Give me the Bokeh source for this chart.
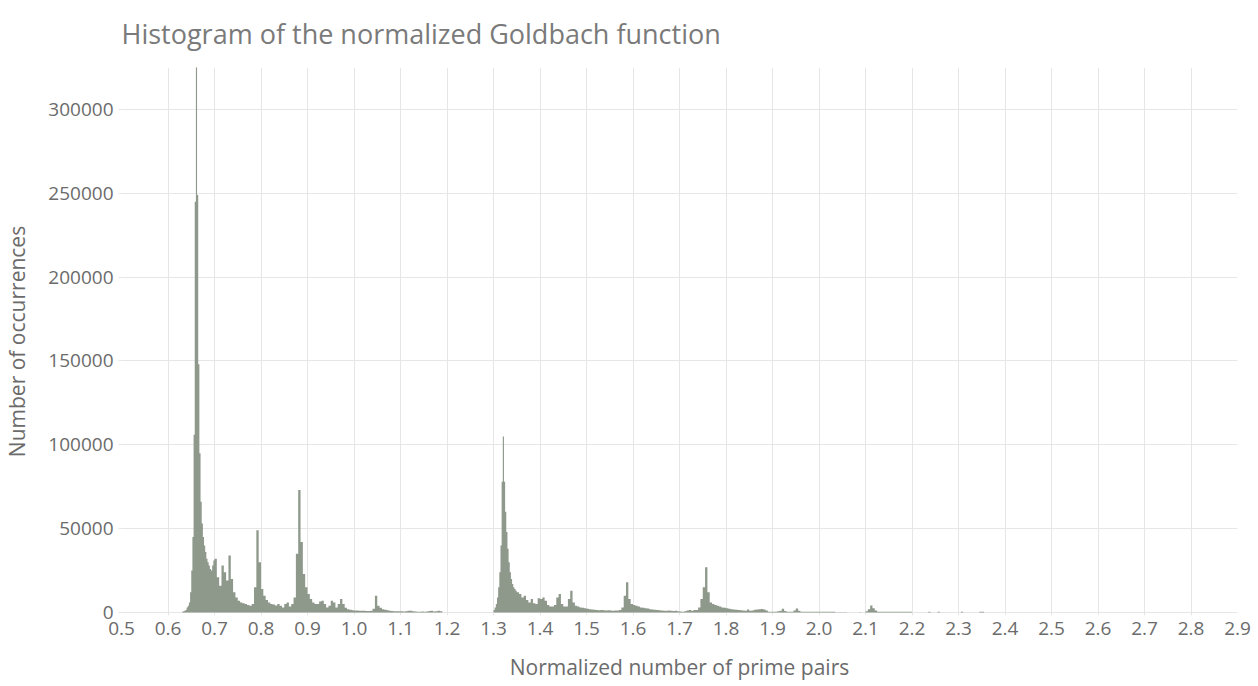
import numpy as np
from bokeh.plotting import figure
from bokeh.models import ColumnDataSource, Range1d, FixedTicker, NumeralTickFormatter
from bokeh.embed import file_html
from bokeh.resources import INLINE

# histogram bins, in a few runs of equal bin width
seg_a_start = 0.630
seg_a_width = 0.0025
seg_a_counts = [500, 800, 1000, 1500, 3000, 4000, 6000, 12000, 25000, 45000,
                106000, 245000, 335000, 249000, 148000, 95000, 66000, 53000,
                45000, 40000, 36000, 32000, 30000, 28000, 26000, 25000, 28000, 31000]

seg_b_start = 0.700
seg_b_width = 0.005
seg_b_counts = [32000, 21000, 16000, 28000, 24000, 19000, 34000, 20000, 12000, 9000,
                7000, 6000, 5500, 5000, 4500, 4000, 5000, 15000, 49000, 30000,
                14000, 10000, 7500, 6000, 5000, 4800, 4200, 5000, 4000, 3000,
                5000, 6000, 3500, 5000, 9000, 35000, 73000, 42000, 23000, 15000,
                11000, 8000, 6000, 5000, 5000, 6500, 7000, 5000, 3000, 4000,
                7000, 6000, 3000, 5000, 8000, 5000, 2800, 2000, 1600, 1400,
                1200, 1200, 1000, 1000, 1000, 900, 900, 1100, 2200, 10000,
                4000, 2800, 2000, 1600, 1400, 1000, 900, 800, 700, 700,
                700, 600, 700, 1000, 1100, 700, 600, 500, 500, 600,
                500, 600, 900, 1000, 600, 700, 1000, 800]

seg_c_start = 1.300
seg_c_width = 0.0025
seg_c_counts = [1500, 3000, 5000, 9000, 15000, 24000, 40000, 78000, 105000, 78000,
                60000, 48000, 38000, 30000, 24000, 20000, 17000, 15000, 14000, 13000]

seg_d_start = 1.350
seg_d_width = 0.005
seg_d_counts = [12000, 11000, 9000, 10000, 7500, 6000, 8000, 5500, 5000, 8500,
                8000, 9000, 7000, 4500, 3500, 3500, 4500, 9000, 11000, 5000,
                3500, 3500, 8000, 13000, 6000, 4000, 3500, 3000, 2800, 2500,
                2200, 2000, 1800, 1700, 1500, 1400, 1500, 1300, 1200, 1300,
                1200, 1100, 1200, 1200, 1500, 3000, 10000, 18000, 8000, 5000,
                4500, 4000, 3500, 3000, 2800, 2500, 2300, 2000, 1800, 1600,
                1500, 1300, 1200, 1100, 1000, 1200, 1000, 900, 1000, 800,
                600, 500, 700, 1200, 1500, 1000, 1500, 1500, 3000, 8000,
                15000, 27000, 12000, 6000, 5000, 4500, 4000, 3500, 3000, 2800]

seg_e_start = 1.800
seg_e_width = 0.005
seg_e_counts = [2500, 2200, 2000, 1800, 1600, 1500, 1300, 1200, 1000, 1800,
                1000, 1200, 1700, 1800, 1900, 2100, 1800, 1200, 400, 400,
                400, 400, 800, 1000, 2200, 900, 400, 400, 400, 1200,
                2400, 1000, 500, 500, 500, 500, 500, 500, 500, 500,
                500, 500, 500, 500, 500, 500, 500, 200, 200, 200,
                200, 200, 0, 0, 0, 0, 0, 150, 0, 0,
                800, 2000, 4200, 2500, 1200, 500, 500, 500, 500, 500,
                500, 500, 500, 500, 500, 500, 500, 500, 500, 500]

tail_left = [2.235, 2.255, 2.305, 2.345, 2.350]
tail_counts = [400, 400, 500, 500, 500]
tail_width = 0.005

x_ticks = [round(0.5 + 0.1 * i, 1) for i in range(25)]
y_ticks = [0, 50000, 100000, 150000, 200000, 250000, 300000]

title_text = "Histogram of the normalized Goldbach function"


def bins(start, width, counts):
    left = start + width * np.arange(len(counts))
    return left, left + width, np.asarray(counts, dtype=float)


parts = [bins(seg_a_start, seg_a_width, seg_a_counts),
         bins(seg_b_start, seg_b_width, seg_b_counts),
         bins(seg_c_start, seg_c_width, seg_c_counts),
         bins(seg_d_start, seg_d_width, seg_d_counts),
         bins(seg_e_start, seg_e_width, seg_e_counts),
         (np.array(tail_left), np.array(tail_left) + tail_width, np.array(tail_counts, dtype=float))]

left = np.concatenate([p[0] for p in parts])
right = np.concatenate([p[1] for p in parts])
top = np.concatenate([p[2] for p in parts])
order = np.argsort(left, kind="stable")
left, right, top = left[order], right[order], top[order]

# one step outline for the whole histogram (no hairline gaps between bars)
xs, ys = [], []
for i in range(len(left)):
    xs.append(left[i])
    ys.append(top[i])
    if i == len(left) - 1 or left[i + 1] > right[i] + 1e-9:
        xs.append(right[i])
        ys.append(0.0)

source = ColumnDataSource(data={'x': xs, 'count': ys, 'zero': [0.0] * len(xs)})

FONT = "Open Sans"
TEXT = "#6b6b6b"
GRID = "#e6e6e6"
BAR = "#8e998c"

p = figure(
    width=1258,
    height=686,
    output_backend="svg",
    toolbar_location=None,
    x_range=Range1d(0.5, 2.9),
    y_range=Range1d(-1800, 325000),
    min_border_left=121,
    min_border_right=21,
    min_border_top=67,
    min_border_bottom=71,
    title=title_text,
)

p.varea_step(x='x', y1='zero', y2='count', step_mode="after", source=source,
             fill_color=BAR)

p.title.text_font = FONT
p.title.text_font_size = "27px"
p.title.text_font_style = "normal"
p.title.text_color = "#7a7a7a"
p.title.vertical_align = "top"
p.title.standoff = 28

p.outline_line_color = None
p.background_fill_color = "white"

p.xaxis.ticker = FixedTicker(ticks=x_ticks)
p.yaxis.ticker = FixedTicker(ticks=y_ticks)
p.xaxis.formatter = NumeralTickFormatter(format="0.0")
p.yaxis.formatter = NumeralTickFormatter(format="0")
p.xaxis.minor_tick_line_color = None
p.yaxis.minor_tick_line_color = None
p.xaxis.axis_line_color = None
p.yaxis.axis_line_color = None
p.xaxis.major_tick_line_color = GRID
p.yaxis.major_tick_line_color = GRID
p.xaxis.major_tick_in = 0
p.yaxis.major_tick_in = 0
p.xaxis.major_tick_out = 0
p.yaxis.major_tick_out = 3

for ax in (p.xaxis, p.yaxis):
    ax.major_label_text_font = FONT
    ax.major_label_text_font_size = "19px"
    ax.major_label_text_color = TEXT
    ax.axis_label_text_font = FONT
    ax.axis_label_text_font_size = "21px"
    ax.axis_label_text_font_style = "normal"
    ax.axis_label_text_color = TEXT

p.xaxis.axis_label = "Normalized number of prime pairs"
p.yaxis.axis_label = "Number of occurrences"
p.xaxis.major_label_standoff = 6
p.yaxis.major_label_standoff = 5
p.xaxis.axis_label_standoff = 15
p.yaxis.axis_label_standoff = 14

p.xgrid.grid_line_color = GRID
p.ygrid.grid_line_color = GRID
p.xgrid.ticker = FixedTicker(ticks=x_ticks)
p.ygrid.ticker = FixedTicker(ticks=y_ticks)

open("out.html", "w").write(file_html(p, INLINE))
